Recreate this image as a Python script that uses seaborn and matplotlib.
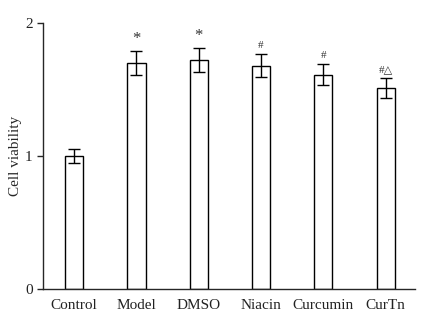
import matplotlib
matplotlib.use("Agg")
import matplotlib.pyplot as plt
import pandas as pd
import seaborn as sns

# Data
groups = ["Control", "Model", "DMSO", "Niacin", "Curcumin", "CurTn"]
viability = [1.00, 1.70, 1.72, 1.68, 1.61, 1.51]
sd = [0.05, 0.09, 0.09, 0.09, 0.08, 0.075]
marks = ["", "*", "*", "#", "#", "#\u25b3"]


def main():
    sns.set_style("ticks")
    plt.rcParams["font.family"] = ["Liberation Serif", "DejaVu Serif"]

    df = pd.DataFrame({"group": groups, "viability": viability, "sd": sd})

    fig = plt.figure(figsize=(4.31, 3.23), dpi=100)
    ax = fig.add_axes([0.0998, 0.105, 0.863, 0.824])

    sns.barplot(data=df, x="group", y="viability", color="white",
                edgecolor="black", linewidth=1.0, width=0.29,
                errorbar=None, ax=ax)
    pos = list(range(len(groups)))
    ax.errorbar(pos, df["viability"], yerr=df["sd"], fmt="none",
                ecolor="black", elinewidth=1.0, capsize=4, capthick=1.0)

    for i, (v, e, m) in enumerate(zip(viability, sd, marks)):
        if not m:
            continue
        fs = 12 if m == "*" else 8
        ax.text(i, v + e + 0.03, m, ha="center", va="bottom",
                fontsize=fs, color="#333333")

    ax.set_xlim(-0.5, 5.47)
    ax.set_ylim(0, 2)
    ax.set_yticks([0, 1, 2])
    ax.set_xlabel("")
    ax.set_ylabel("Cell viability", fontsize=11, labelpad=2)
    ax.tick_params(axis="x", length=0, labelsize=11, pad=7, colors="#222222")
    ax.tick_params(axis="y", length=4, width=1, labelsize=11, direction="out",
                   labelcolor="#222222")
    for s in ["top", "right"]:
        ax.spines[s].set_visible(False)
    ax.spines["left"].set_linewidth(1.0)
    ax.spines["bottom"].set_linewidth(1.0)

    fig.savefig("out.png", dpi=100)
    plt.close(fig)


if __name__ == "__main__":
    main()
